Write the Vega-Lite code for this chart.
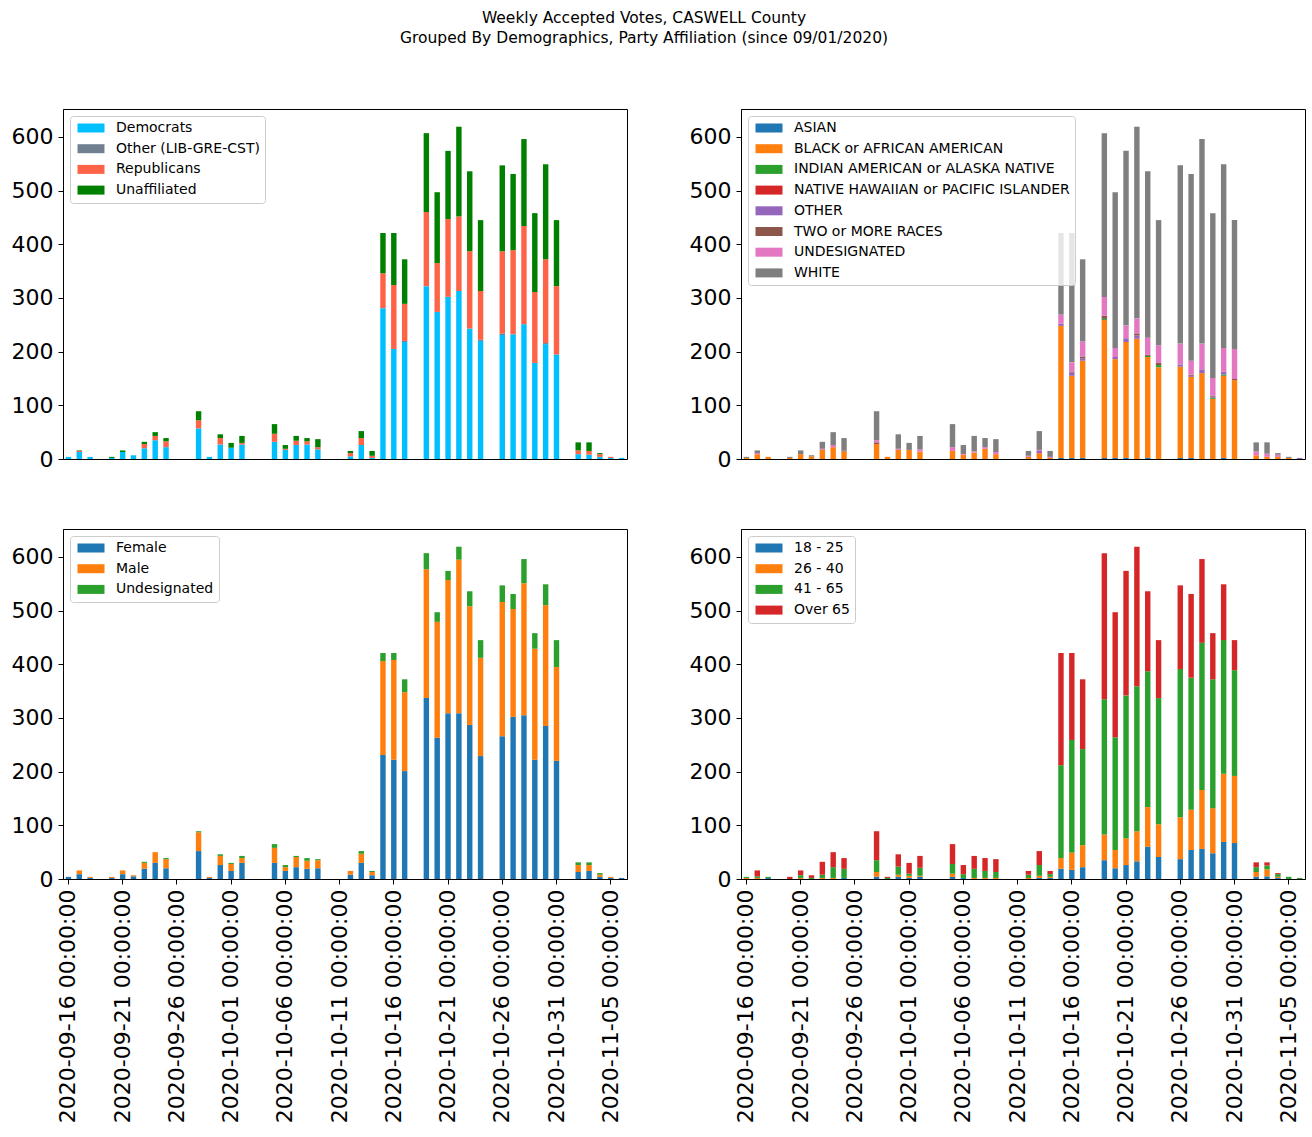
{
  "$schema": "https://vega.github.io/schema/vega-lite/v6.json",
  "padding": {"left": 10, "top": 10, "right": 8, "bottom": 8},
  "autosize": {"type": "pad"},
  "background": "white",
  "title": {
    "text": ["Weekly Accepted Votes, CASWELL County", "Grouped By Demographics, Party Affiliation (since 09/01/2020)"],
    "anchor": "middle", "font": "DejaVu Sans", "fontSize": 15.5, "fontWeight": "normal",
    "lineHeight": 20.5, "color": "black", "offset": 62, "dx": -14
  },
  "columns": 2,
  "spacing": {"row": 70, "column": 114},
  "bounds": "flush",
  "datasets": {
    "party": [
      {"d":"2020-09-16","Democrats":4},
      {"d":"2020-09-17","Democrats":13,"Republicans":2,"Unaffiliated":1},
      {"d":"2020-09-18","Democrats":4},
      {"d":"2020-09-20","Democrats":2,"Unaffiliated":2},
      {"d":"2020-09-21","Democrats":13,"Unaffiliated":3},
      {"d":"2020-09-22","Democrats":7},
      {"d":"2020-09-23","Democrats":20,"Republicans":8,"Unaffiliated":4},
      {"d":"2020-09-24","Democrats":35,"Republicans":8,"Unaffiliated":7},
      {"d":"2020-09-25","Democrats":22,"Republicans":11,"Unaffiliated":6},
      {"d":"2020-09-28","Democrats":57,"Republicans":15,"Unaffiliated":17},
      {"d":"2020-09-29","Democrats":4},
      {"d":"2020-09-30","Democrats":27,"Republicans":12,"Unaffiliated":7},
      {"d":"2020-10-01","Democrats":21,"Unaffiliated":9},
      {"d":"2020-10-02","Democrats":27,"Republicans":3,"Unaffiliated":13},
      {"d":"2020-10-05","Democrats":32,"Republicans":15,"Unaffiliated":18},
      {"d":"2020-10-06","Democrats":17,"Republicans":2,"Unaffiliated":7},
      {"d":"2020-10-07","Democrats":26,"Republicans":8,"Unaffiliated":9},
      {"d":"2020-10-08","Democrats":27,"Republicans":6,"Unaffiliated":6},
      {"d":"2020-10-09","Democrats":18,"Republicans":4,"Unaffiliated":15},
      {"d":"2020-10-12","Democrats":5,"Republicans":6,"Unaffiliated":4},
      {"d":"2020-10-13","Democrats":26,"Republicans":13,"Unaffiliated":13},
      {"d":"2020-10-14","Democrats":2,"Republicans":4,"Unaffiliated":9},
      {"d":"2020-10-15","Democrats":281,"Republicans":65,"Unaffiliated":75},
      {"d":"2020-10-16","Democrats":205,"Republicans":119,"Unaffiliated":97},
      {"d":"2020-10-17","Democrats":218,"Other (LIB-GRE-CST)":2,"Republicans":69,"Unaffiliated":83},
      {"d":"2020-10-19","Democrats":322,"Republicans":138,"Unaffiliated":147},
      {"d":"2020-10-20","Democrats":274,"Republicans":91,"Unaffiliated":132},
      {"d":"2020-10-21","Democrats":302,"Republicans":145,"Unaffiliated":127},
      {"d":"2020-10-22","Democrats":313,"Republicans":139,"Unaffiliated":167},
      {"d":"2020-10-23","Democrats":243,"Republicans":144,"Unaffiliated":149},
      {"d":"2020-10-24","Democrats":220,"Other (LIB-GRE-CST)":2,"Republicans":91,"Unaffiliated":132},
      {"d":"2020-10-26","Democrats":231,"Other (LIB-GRE-CST)":3,"Republicans":153,"Unaffiliated":160},
      {"d":"2020-10-27","Democrats":232,"Other (LIB-GRE-CST)":1,"Republicans":156,"Unaffiliated":142},
      {"d":"2020-10-28","Democrats":251,"Republicans":183,"Unaffiliated":162},
      {"d":"2020-10-29","Democrats":179,"Republicans":132,"Unaffiliated":147},
      {"d":"2020-10-30","Democrats":214,"Other (LIB-GRE-CST)":2,"Republicans":156,"Unaffiliated":177},
      {"d":"2020-10-31","Democrats":194,"Other (LIB-GRE-CST)":1,"Republicans":127,"Unaffiliated":123},
      {"d":"2020-11-02","Democrats":9,"Republicans":7,"Unaffiliated":15},
      {"d":"2020-11-03","Democrats":8,"Republicans":7,"Unaffiliated":16},
      {"d":"2020-11-04","Democrats":4,"Republicans":5,"Unaffiliated":2},
      {"d":"2020-11-05","Democrats":2,"Republicans":2},
      {"d":"2020-11-06","Democrats":2}
    ],
    "race": [
      {"d":"2020-09-16","BLACK or AFRICAN AMERICAN":2,"WHITE":2},
      {"d":"2020-09-17","BLACK or AFRICAN AMERICAN":9,"UNDESIGNATED":2,"WHITE":5},
      {"d":"2020-09-18","BLACK or AFRICAN AMERICAN":4},
      {"d":"2020-09-20","BLACK or AFRICAN AMERICAN":2,"WHITE":2},
      {"d":"2020-09-21","BLACK or AFRICAN AMERICAN":9,"WHITE":7},
      {"d":"2020-09-22","BLACK or AFRICAN AMERICAN":5,"WHITE":2},
      {"d":"2020-09-23","BLACK or AFRICAN AMERICAN":17,"UNDESIGNATED":2,"WHITE":13},
      {"d":"2020-09-24","BLACK or AFRICAN AMERICAN":22,"UNDESIGNATED":4,"WHITE":24},
      {"d":"2020-09-25","BLACK or AFRICAN AMERICAN":14,"TWO or MORE RACES":2,"WHITE":23},
      {"d":"2020-09-28","BLACK or AFRICAN AMERICAN":28,"TWO or MORE RACES":3,"UNDESIGNATED":4,"WHITE":54},
      {"d":"2020-09-29","BLACK or AFRICAN AMERICAN":4},
      {"d":"2020-09-30","BLACK or AFRICAN AMERICAN":17,"UNDESIGNATED":2,"WHITE":27},
      {"d":"2020-10-01","BLACK or AFRICAN AMERICAN":17,"WHITE":13},
      {"d":"2020-10-02","BLACK or AFRICAN AMERICAN":14,"UNDESIGNATED":4,"WHITE":25},
      {"d":"2020-10-05","BLACK or AFRICAN AMERICAN":15,"UNDESIGNATED":7,"WHITE":43},
      {"d":"2020-10-06","BLACK or AFRICAN AMERICAN":8,"UNDESIGNATED":1,"WHITE":17},
      {"d":"2020-10-07","BLACK or AFRICAN AMERICAN":12,"UNDESIGNATED":2,"WHITE":29},
      {"d":"2020-10-08","BLACK or AFRICAN AMERICAN":19,"UNDESIGNATED":3,"WHITE":17},
      {"d":"2020-10-09","BLACK or AFRICAN AMERICAN":9,"UNDESIGNATED":4,"WHITE":24},
      {"d":"2020-10-12","BLACK or AFRICAN AMERICAN":4,"UNDESIGNATED":2,"WHITE":9},
      {"d":"2020-10-13","BLACK or AFRICAN AMERICAN":11,"OTHER":4,"UNDESIGNATED":2,"WHITE":35},
      {"d":"2020-10-14","BLACK or AFRICAN AMERICAN":2,"UNDESIGNATED":2,"WHITE":11},
      {"d":"2020-10-15","ASIAN":2,"BLACK or AFRICAN AMERICAN":246,"OTHER":4,"UNDESIGNATED":17,"WHITE":152},
      {"d":"2020-10-16","ASIAN":2,"BLACK or AFRICAN AMERICAN":153,"OTHER":6,"TWO or MORE RACES":2,"UNDESIGNATED":17,"WHITE":241},
      {"d":"2020-10-17","ASIAN":2,"BLACK or AFRICAN AMERICAN":181,"OTHER":4,"TWO or MORE RACES":4,"UNDESIGNATED":28,"WHITE":153},
      {"d":"2020-10-19","ASIAN":2,"BLACK or AFRICAN AMERICAN":257,"INDIAN AMERICAN or ALASKA NATIVE":2,"TWO or MORE RACES":6,"UNDESIGNATED":35,"WHITE":305},
      {"d":"2020-10-20","ASIAN":2,"BLACK or AFRICAN AMERICAN":184,"OTHER":4,"UNDESIGNATED":17,"WHITE":290},
      {"d":"2020-10-21","ASIAN":2,"BLACK or AFRICAN AMERICAN":216,"OTHER":7,"UNDESIGNATED":24,"WHITE":325},
      {"d":"2020-10-22","BLACK or AFRICAN AMERICAN":224,"OTHER":6,"TWO or MORE RACES":4,"UNDESIGNATED":28,"WHITE":357},
      {"d":"2020-10-23","ASIAN":2,"BLACK or AFRICAN AMERICAN":188,"INDIAN AMERICAN or ALASKA NATIVE":2,"TWO or MORE RACES":2,"UNDESIGNATED":32,"WHITE":310},
      {"d":"2020-10-24","BLACK or AFRICAN AMERICAN":171,"INDIAN AMERICAN or ALASKA NATIVE":4,"TWO or MORE RACES":4,"UNDESIGNATED":33,"WHITE":233},
      {"d":"2020-10-26","ASIAN":2,"BLACK or AFRICAN AMERICAN":170,"OTHER":4,"UNDESIGNATED":39,"WHITE":332},
      {"d":"2020-10-27","ASIAN":2,"BLACK or AFRICAN AMERICAN":151,"OTHER":2,"TWO or MORE RACES":2,"UNDESIGNATED":26,"WHITE":348},
      {"d":"2020-10-28","BLACK or AFRICAN AMERICAN":160,"OTHER":7,"UNDESIGNATED":48,"WHITE":381},
      {"d":"2020-10-29","BLACK or AFRICAN AMERICAN":112,"INDIAN AMERICAN or ALASKA NATIVE":2,"OTHER":2,"TWO or MORE RACES":2,"UNDESIGNATED":33,"WHITE":307},
      {"d":"2020-10-30","ASIAN":2,"BLACK or AFRICAN AMERICAN":153,"INDIAN AMERICAN or ALASKA NATIVE":2,"OTHER":6,"UNDESIGNATED":44,"WHITE":342},
      {"d":"2020-10-31","BLACK or AFRICAN AMERICAN":147,"TWO or MORE RACES":2,"UNDESIGNATED":56,"WHITE":240},
      {"d":"2020-11-02","BLACK or AFRICAN AMERICAN":7,"UNDESIGNATED":7,"WHITE":17},
      {"d":"2020-11-03","BLACK or AFRICAN AMERICAN":4,"UNDESIGNATED":6,"WHITE":21},
      {"d":"2020-11-04","BLACK or AFRICAN AMERICAN":4,"UNDESIGNATED":4,"WHITE":3},
      {"d":"2020-11-05","BLACK or AFRICAN AMERICAN":2,"WHITE":2},
      {"d":"2020-11-06","OTHER":2}
    ],
    "gender": [
      {"d":"2020-09-16","Female":4},
      {"d":"2020-09-17","Female":9,"Male":7},
      {"d":"2020-09-18","Female":2,"Male":2},
      {"d":"2020-09-20","Female":2,"Male":2},
      {"d":"2020-09-21","Female":9,"Male":7},
      {"d":"2020-09-22","Female":5,"Male":2},
      {"d":"2020-09-23","Female":19,"Male":11,"Undesignated":2},
      {"d":"2020-09-24","Female":30,"Male":20},
      {"d":"2020-09-25","Female":20,"Male":17,"Undesignated":2},
      {"d":"2020-09-28","Female":52,"Male":35,"Undesignated":2},
      {"d":"2020-09-29","Female":2,"Male":2},
      {"d":"2020-09-30","Female":26,"Male":17,"Undesignated":3},
      {"d":"2020-10-01","Female":15,"Male":13,"Undesignated":2},
      {"d":"2020-10-02","Female":30,"Male":9,"Undesignated":4},
      {"d":"2020-10-05","Female":30,"Male":28,"Undesignated":7},
      {"d":"2020-10-06","Female":15,"Male":7,"Undesignated":4},
      {"d":"2020-10-07","Female":22,"Male":19,"Undesignated":2},
      {"d":"2020-10-08","Female":19,"Male":15,"Undesignated":5},
      {"d":"2020-10-09","Female":20,"Male":15,"Undesignated":2},
      {"d":"2020-10-12","Female":8,"Male":7},
      {"d":"2020-10-13","Female":30,"Male":17,"Undesignated":5},
      {"d":"2020-10-14","Female":7,"Male":6,"Undesignated":2},
      {"d":"2020-10-15","Female":231,"Male":175,"Undesignated":15},
      {"d":"2020-10-16","Female":222,"Male":186,"Undesignated":13},
      {"d":"2020-10-17","Female":201,"Male":147,"Undesignated":24},
      {"d":"2020-10-19","Female":337,"Male":240,"Undesignated":30},
      {"d":"2020-10-20","Female":263,"Male":216,"Undesignated":18},
      {"d":"2020-10-21","Female":309,"Male":248,"Undesignated":17},
      {"d":"2020-10-22","Female":309,"Male":286,"Undesignated":24},
      {"d":"2020-10-23","Female":287,"Male":221,"Undesignated":28},
      {"d":"2020-10-24","Female":229,"Male":183,"Undesignated":33},
      {"d":"2020-10-26","Female":266,"Male":250,"Undesignated":31},
      {"d":"2020-10-27","Female":302,"Male":201,"Undesignated":28},
      {"d":"2020-10-28","Female":305,"Male":246,"Undesignated":45},
      {"d":"2020-10-29","Female":222,"Male":207,"Undesignated":29},
      {"d":"2020-10-30","Female":285,"Male":225,"Undesignated":39},
      {"d":"2020-10-31","Female":220,"Male":175,"Undesignated":50},
      {"d":"2020-11-02","Female":13,"Male":13,"Undesignated":5},
      {"d":"2020-11-03","Female":15,"Male":11,"Undesignated":5},
      {"d":"2020-11-04","Female":4,"Male":4,"Undesignated":3},
      {"d":"2020-11-05","Female":2,"Male":2},
      {"d":"2020-11-06","Female":2}
    ],
    "age": [
      {"d":"2020-09-16","26 - 40":2,"41 - 65":2},
      {"d":"2020-09-17","26 - 40":2,"41 - 65":3,"Over 65":11},
      {"d":"2020-09-18","18 - 25":2,"41 - 65":2},
      {"d":"2020-09-20","Over 65":4},
      {"d":"2020-09-21","26 - 40":2,"41 - 65":5,"Over 65":9},
      {"d":"2020-09-22","41 - 65":2,"Over 65":5},
      {"d":"2020-09-23","26 - 40":2,"41 - 65":6,"Over 65":24},
      {"d":"2020-09-24","26 - 40":2,"41 - 65":20,"Over 65":28},
      {"d":"2020-09-25","18 - 25":2,"41 - 65":17,"Over 65":20},
      {"d":"2020-09-28","18 - 25":4,"26 - 40":9,"41 - 65":22,"Over 65":54},
      {"d":"2020-09-29","41 - 65":2,"Over 65":2},
      {"d":"2020-09-30","18 - 25":4,"26 - 40":4,"41 - 65":15,"Over 65":23},
      {"d":"2020-10-01","18 - 25":2,"26 - 40":4,"41 - 65":4,"Over 65":20},
      {"d":"2020-10-02","18 - 25":4,"26 - 40":2,"41 - 65":15,"Over 65":22},
      {"d":"2020-10-05","18 - 25":4,"26 - 40":6,"41 - 65":18,"Over 65":37},
      {"d":"2020-10-06","18 - 25":2,"41 - 65":7,"Over 65":17},
      {"d":"2020-10-07","26 - 40":2,"41 - 65":17,"Over 65":24},
      {"d":"2020-10-08","26 - 40":2,"41 - 65":13,"Over 65":24},
      {"d":"2020-10-09","26 - 40":2,"41 - 65":11,"Over 65":24},
      {"d":"2020-10-12","26 - 40":2,"41 - 65":6,"Over 65":7},
      {"d":"2020-10-13","18 - 25":2,"26 - 40":4,"41 - 65":20,"Over 65":26},
      {"d":"2020-10-14","18 - 25":2,"26 - 40":2,"41 - 65":5,"Over 65":6},
      {"d":"2020-10-15","18 - 25":19,"26 - 40":20,"41 - 65":173,"Over 65":209},
      {"d":"2020-10-16","18 - 25":17,"26 - 40":32,"41 - 65":210,"Over 65":162},
      {"d":"2020-10-17","18 - 25":22,"26 - 40":41,"41 - 65":179,"Over 65":130},
      {"d":"2020-10-19","18 - 25":35,"26 - 40":48,"41 - 65":252,"Over 65":272},
      {"d":"2020-10-20","18 - 25":20,"26 - 40":34,"41 - 65":210,"Over 65":233},
      {"d":"2020-10-21","18 - 25":26,"26 - 40":50,"41 - 65":266,"Over 65":232},
      {"d":"2020-10-22","18 - 25":33,"26 - 40":56,"41 - 65":270,"Over 65":260},
      {"d":"2020-10-23","18 - 25":60,"26 - 40":74,"41 - 65":253,"Over 65":149},
      {"d":"2020-10-24","18 - 25":41,"26 - 40":61,"41 - 65":235,"Over 65":108},
      {"d":"2020-10-26","18 - 25":37,"26 - 40":78,"41 - 65":276,"Over 65":156},
      {"d":"2020-10-27","18 - 25":54,"26 - 40":75,"41 - 65":246,"Over 65":156},
      {"d":"2020-10-28","18 - 25":56,"26 - 40":110,"41 - 65":274,"Over 65":156},
      {"d":"2020-10-29","18 - 25":48,"26 - 40":84,"41 - 65":240,"Over 65":86},
      {"d":"2020-10-30","18 - 25":69,"26 - 40":127,"41 - 65":249,"Over 65":104},
      {"d":"2020-10-31","18 - 25":67,"26 - 40":125,"41 - 65":197,"Over 65":56},
      {"d":"2020-11-02","18 - 25":4,"26 - 40":9,"41 - 65":9,"Over 65":9},
      {"d":"2020-11-03","18 - 25":5,"26 - 40":13,"41 - 65":7,"Over 65":6},
      {"d":"2020-11-04","18 - 25":2,"26 - 40":2,"41 - 65":5,"Over 65":2},
      {"d":"2020-11-05","41 - 65":4},
      {"d":"2020-11-06","41 - 65":2}
    ]
  },
  "concat": [
    {
      "width": 564, "height": 350,
      "data": {"name": "party"},
      "transform": [
        {"fold": ["Democrats", "Other (LIB-GRE-CST)", "Republicans", "Unaffiliated"], "as": ["cat", "v"]},
        {"filter": "isValid(datum.v)"}
      ],
      "mark": {"type": "bar"},
      "encoding": {
        "x": {"field": "d", "type": "ordinal",
          "scale": {"domain": ["2020-09-16","2020-09-17","2020-09-18","2020-09-19","2020-09-20","2020-09-21","2020-09-22","2020-09-23","2020-09-24","2020-09-25","2020-09-26","2020-09-27","2020-09-28","2020-09-29","2020-09-30","2020-10-01","2020-10-02","2020-10-03","2020-10-04","2020-10-05","2020-10-06","2020-10-07","2020-10-08","2020-10-09","2020-10-10","2020-10-11","2020-10-12","2020-10-13","2020-10-14","2020-10-15","2020-10-16","2020-10-17","2020-10-18","2020-10-19","2020-10-20","2020-10-21","2020-10-22","2020-10-23","2020-10-24","2020-10-25","2020-10-26","2020-10-27","2020-10-28","2020-10-29","2020-10-30","2020-10-31","2020-11-01","2020-11-02","2020-11-03","2020-11-04","2020-11-05","2020-11-06"], "paddingInner": 0.5, "paddingOuter": 0.25},
          "axis": null},
        "y": {"field": "v", "type": "quantitative", "stack": "zero",
          "scale": {"domain": [0, 652], "nice": false},
          "axis": {"values": [0, 100, 200, 300, 400, 500, 600]}},
        "color": {"field": "cat", "type": "nominal",
          "scale": {"domain": ["Democrats", "Other (LIB-GRE-CST)", "Republicans", "Unaffiliated"], "range": ["#00bfff", "#708090", "#ff6347", "#008000"]},
          "legend": {"title": null}},
        "order": {"field": "cat", "type": "nominal", "sort": "ascending"}
      }
    },
    {
      "width": 564, "height": 350,
      "data": {"name": "race"},
      "transform": [
        {"fold": ["ASIAN", "BLACK or AFRICAN AMERICAN", "INDIAN AMERICAN or ALASKA NATIVE", "NATIVE HAWAIIAN or PACIFIC ISLANDER", "OTHER", "TWO or MORE RACES", "UNDESIGNATED", "WHITE"], "as": ["cat", "v"]},
        {"filter": "isValid(datum.v)"}
      ],
      "mark": {"type": "bar"},
      "encoding": {
        "x": {"field": "d", "type": "ordinal",
          "scale": {"domain": ["2020-09-16","2020-09-17","2020-09-18","2020-09-19","2020-09-20","2020-09-21","2020-09-22","2020-09-23","2020-09-24","2020-09-25","2020-09-26","2020-09-27","2020-09-28","2020-09-29","2020-09-30","2020-10-01","2020-10-02","2020-10-03","2020-10-04","2020-10-05","2020-10-06","2020-10-07","2020-10-08","2020-10-09","2020-10-10","2020-10-11","2020-10-12","2020-10-13","2020-10-14","2020-10-15","2020-10-16","2020-10-17","2020-10-18","2020-10-19","2020-10-20","2020-10-21","2020-10-22","2020-10-23","2020-10-24","2020-10-25","2020-10-26","2020-10-27","2020-10-28","2020-10-29","2020-10-30","2020-10-31","2020-11-01","2020-11-02","2020-11-03","2020-11-04","2020-11-05","2020-11-06"], "paddingInner": 0.5, "paddingOuter": 0.25},
          "axis": null},
        "y": {"field": "v", "type": "quantitative", "stack": "zero",
          "scale": {"domain": [0, 652], "nice": false},
          "axis": {"values": [0, 100, 200, 300, 400, 500, 600]}},
        "color": {"field": "cat", "type": "nominal",
          "scale": {"domain": ["ASIAN", "BLACK or AFRICAN AMERICAN", "INDIAN AMERICAN or ALASKA NATIVE", "NATIVE HAWAIIAN or PACIFIC ISLANDER", "OTHER", "TWO or MORE RACES", "UNDESIGNATED", "WHITE"], "range": ["#1f77b4", "#ff7f0e", "#2ca02c", "#d62728", "#9467bd", "#8c564b", "#e377c2", "#7f7f7f"]},
          "legend": {"title": null}},
        "order": {"field": "cat", "type": "nominal", "sort": "ascending"}
      }
    },
    {
      "width": 564, "height": 350,
      "data": {"name": "gender"},
      "transform": [
        {"fold": ["Female", "Male", "Undesignated"], "as": ["cat", "v"]},
        {"filter": "isValid(datum.v)"}
      ],
      "mark": {"type": "bar"},
      "encoding": {
        "x": {"field": "d", "type": "ordinal",
          "scale": {"domain": ["2020-09-16","2020-09-17","2020-09-18","2020-09-19","2020-09-20","2020-09-21","2020-09-22","2020-09-23","2020-09-24","2020-09-25","2020-09-26","2020-09-27","2020-09-28","2020-09-29","2020-09-30","2020-10-01","2020-10-02","2020-10-03","2020-10-04","2020-10-05","2020-10-06","2020-10-07","2020-10-08","2020-10-09","2020-10-10","2020-10-11","2020-10-12","2020-10-13","2020-10-14","2020-10-15","2020-10-16","2020-10-17","2020-10-18","2020-10-19","2020-10-20","2020-10-21","2020-10-22","2020-10-23","2020-10-24","2020-10-25","2020-10-26","2020-10-27","2020-10-28","2020-10-29","2020-10-30","2020-10-31","2020-11-01","2020-11-02","2020-11-03","2020-11-04","2020-11-05","2020-11-06"], "paddingInner": 0.5, "paddingOuter": 0.25},
          "axis": {"values": ["2020-09-16","2020-09-21","2020-09-26","2020-10-01","2020-10-06","2020-10-11","2020-10-16","2020-10-21","2020-10-26","2020-10-31","2020-11-05"], "labelExpr": "datum.value + ' 00:00:00'", "labelAngle": 270}},
        "y": {"field": "v", "type": "quantitative", "stack": "zero",
          "scale": {"domain": [0, 652], "nice": false},
          "axis": {"values": [0, 100, 200, 300, 400, 500, 600]}},
        "color": {"field": "cat", "type": "nominal",
          "scale": {"domain": ["Female", "Male", "Undesignated"], "range": ["#1f77b4", "#ff7f0e", "#2ca02c"]},
          "legend": {"title": null}},
        "order": {"field": "cat", "type": "nominal", "sort": "ascending"}
      }
    },
    {
      "width": 564, "height": 350,
      "data": {"name": "age"},
      "transform": [
        {"fold": ["18 - 25", "26 - 40", "41 - 65", "Over 65"], "as": ["cat", "v"]},
        {"filter": "isValid(datum.v)"}
      ],
      "mark": {"type": "bar"},
      "encoding": {
        "x": {"field": "d", "type": "ordinal",
          "scale": {"domain": ["2020-09-16","2020-09-17","2020-09-18","2020-09-19","2020-09-20","2020-09-21","2020-09-22","2020-09-23","2020-09-24","2020-09-25","2020-09-26","2020-09-27","2020-09-28","2020-09-29","2020-09-30","2020-10-01","2020-10-02","2020-10-03","2020-10-04","2020-10-05","2020-10-06","2020-10-07","2020-10-08","2020-10-09","2020-10-10","2020-10-11","2020-10-12","2020-10-13","2020-10-14","2020-10-15","2020-10-16","2020-10-17","2020-10-18","2020-10-19","2020-10-20","2020-10-21","2020-10-22","2020-10-23","2020-10-24","2020-10-25","2020-10-26","2020-10-27","2020-10-28","2020-10-29","2020-10-30","2020-10-31","2020-11-01","2020-11-02","2020-11-03","2020-11-04","2020-11-05","2020-11-06"], "paddingInner": 0.5, "paddingOuter": 0.25},
          "axis": {"values": ["2020-09-16","2020-09-21","2020-09-26","2020-10-01","2020-10-06","2020-10-11","2020-10-16","2020-10-21","2020-10-26","2020-10-31","2020-11-05"], "labelExpr": "datum.value + ' 00:00:00'", "labelAngle": 270}},
        "y": {"field": "v", "type": "quantitative", "stack": "zero",
          "scale": {"domain": [0, 652], "nice": false},
          "axis": {"values": [0, 100, 200, 300, 400, 500, 600]}},
        "color": {"field": "cat", "type": "nominal",
          "scale": {"domain": ["18 - 25", "26 - 40", "41 - 65", "Over 65"], "range": ["#1f77b4", "#ff7f0e", "#2ca02c", "#d62728"]},
          "legend": {"title": null}},
        "order": {"field": "cat", "type": "nominal", "sort": "ascending"}
      }
    }
  ],
  "resolve": {"scale": {"color": "independent", "x": "independent", "y": "independent"}, "legend": {"color": "independent"}},
  "config": {
    "font": "DejaVu Sans",
    "view": {"stroke": "black", "strokeWidth": 1},
    "bar": {"stroke": null},
    "axis": {"domainColor": "black", "domainWidth": 1, "tickColor": "black", "tickWidth": 1, "tickSize": 5, "labelPadding": 5, "labelColor": "black", "labelFont": "DejaVu Sans", "labelFontSize": 22, "labelLimit": 500, "grid": false, "title": null},
    "legend": {"orient": "top-left", "offset": 7, "padding": 5, "fillColor": "rgba(255,255,255,0.8)", "strokeColor": "#cccccc", "strokeWidth": 1, "cornerRadius": 3, "labelFont": "DejaVu Sans", "labelFontSize": 14, "labelColor": "black", "labelLimit": 500, "symbolType": "M-1,-1H5V1H-1Z", "symbolSize": 81, "symbolStrokeWidth": 0, "symbolOpacity": 1, "labelOffset": 27, "rowPadding": 6.7}
  }
}
